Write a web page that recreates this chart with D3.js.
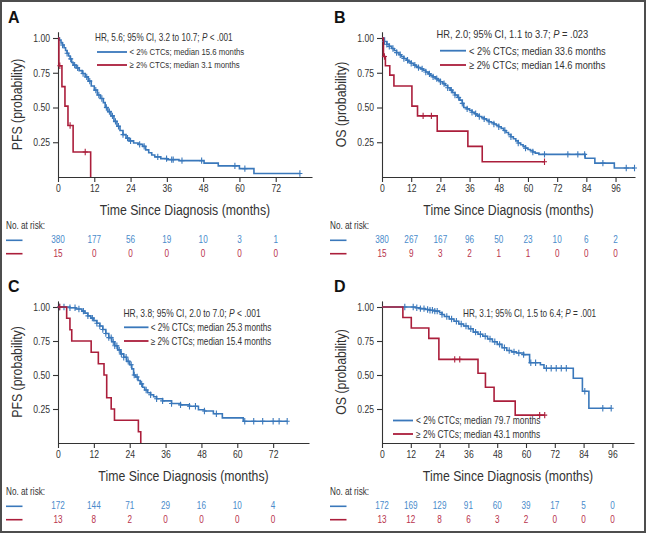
<!DOCTYPE html>
<html><head><meta charset="utf-8">
<script src="https://cdn.jsdelivr.net/npm/d3@7"></script>
<style>body{margin:0;background:#fff}svg{display:block}</style>
</head><body><svg id="c" width="646" height="533"></svg>
<script>
// ---------------- DATA ----------------
const ticksShort = [0, 12, 24, 36, 48, 60, 72];
const ticksLong = [0, 12, 24, 36, 48, 60, 72, 84, 96];
const yTicks = [0.25, 0.5, 0.75, 1.0];

// Panel A: PFS, full cohort  [months, survival]
const pfsA_low = [[0,1],[0.5,0.985],[1,0.965],[1.5,0.95],[2,0.93],[2.5,0.91],[3,0.89],[3.5,0.87],[4,0.85],[4.5,0.825],[5,0.805],[6,0.785],[7,0.765],[8,0.745],[9,0.72],[10,0.69],[11,0.655],[12,0.625],[13,0.59],[14,0.565],[15,0.535],[15.6,0.50],[16.5,0.47],[17.5,0.44],[18.5,0.40],[19.5,0.365],[20.5,0.335],[21.5,0.305],[22.5,0.28],[23.5,0.26],[25,0.245],[26.5,0.235],[28,0.22],[29,0.195],[30,0.175],[31,0.158],[32,0.145],[34,0.132],[36,0.125],[40,0.118],[48.3,0.10],[53,0.08],[60,0.06],[64.8,0.025],[80,0.025]];
const pfsA_high = [[0,1],[0.3,0.80],[1.3,0.65],[2.3,0.51],[3.3,0.37],[5.0,0.18],[10.8,0]];
const pfsA_lowCens = [1.5,3,4.2,5.5,6.5,8.3,9.5,10.5,12.5,13.5,14.5,16,17,18,19,20,21.5,23,24,27,28.5,33,35.9,37.6,38.1,41,47.5,58.5,61.8,80];
const pfsA_highCens = [0.6,4.0,9.0];
const riskA_low = [380,177,56,19,10,3,1];
const riskA_high = [15,0,0,0,0,0,0];

// Panel B: OS, full cohort
const osB_low = [[0,1],[1,0.975],[2,0.955],[3,0.94],[4,0.925],[5,0.91],[6,0.895],[7,0.88],[8,0.865],[9,0.853],[10,0.84],[11,0.828],[12,0.818],[13,0.805],[14,0.795],[15,0.787],[16,0.778],[17,0.768],[18,0.755],[19,0.742],[20,0.73],[21,0.72],[22,0.708],[23,0.697],[24,0.685],[25,0.672],[26,0.658],[27,0.642],[28,0.625],[29,0.607],[30,0.59],[31,0.572],[32,0.553],[33,0.53],[33.6,0.50],[35,0.49],[36,0.478],[37,0.466],[38,0.455],[39,0.445],[40,0.435],[41,0.427],[42,0.418],[43,0.408],[44,0.398],[45,0.39],[46,0.381],[47,0.372],[48,0.362],[49,0.35],[50,0.335],[51,0.32],[52,0.305],[53,0.29],[54,0.275],[55,0.26],[56,0.245],[57,0.232],[58,0.22],[59,0.208],[60,0.198],[61,0.19],[62,0.18],[63,0.172],[64.5,0.163],[83.5,0.135],[87.5,0.10],[95.5,0.065],[103.8,0.065]];
const osB_high = [[0,1],[0.6,0.867],[1.4,0.80],[3.2,0.733],[4.9,0.655],[12.3,0.51],[14.6,0.44],[22.7,0.33],[35.3,0.22],[41.2,0.11],[66.8,0.11]];
const osB_lowCens = [1,2,3,4.5,6,7.5,9,10.5,12,13.5,15,16.5,18,19.5,21,22.5,24,25.5,27,28.5,30,31.5,33,35,37,38.5,40,42,44,46,48,50.5,53,56,59,62,66.8,76.4,80.5,83.3,90.8,100.4,103.8];
const osB_highCens = [1.0,16.9,20.3,66.8];
const riskB_low = [380,267,167,96,50,23,10,6,2];
const riskB_high = [15,9,3,2,1,1,0,0,0];

// Panel C: PFS, subgroup
const pfsC_low = [[0,1],[4,0.995],[6,0.985],[8,0.97],[9,0.955],[10,0.935],[11,0.918],[12,0.90],[13,0.88],[14,0.86],[15,0.835],[16,0.805],[17,0.775],[18,0.745],[19,0.715],[20,0.685],[21,0.655],[22,0.63],[23,0.60],[24,0.575],[24.7,0.545],[25.3,0.50],[26,0.485],[26.8,0.46],[27.5,0.435],[28.3,0.41],[29,0.39],[30,0.37],[31,0.355],[32,0.34],[33,0.325],[35,0.31],[38,0.29],[41,0.28],[44,0.27],[47,0.245],[49,0.235],[52,0.215],[55,0.185],[62,0.16],[76.7,0.16]];
const pfsC_high = [[0,1],[2.9,0.917],[4.0,0.833],[4.6,0.75],[11.1,0.667],[13.5,0.583],[15.4,0.50],[16.3,0.333],[17.8,0.25],[18.9,0.167],[26.9,0.083],[27.7,0]];
const pfsC_lowCens = [0.5,2,4,5.7,7,8.5,10,11.5,13,14,15,16,17,17.8,18.5,19,19.7,20.5,21.2,22,22.8,23.5,24.5,25.5,26.5,28,29.5,31,33,35,38,41,44,46,49,53,62.5,65.5,68.5,72,74,76.7];
const pfsC_highCens = [0.6];
const riskC_low = [172,144,71,29,16,10,4];
const riskC_high = [13,8,2,0,0,0,0];

// Panel D: OS, subgroup
const osD_low = [[0,1],[14,0.994],[16,0.988],[18,0.982],[20,0.976],[22,0.97],[24,0.958],[25,0.945],[26,0.93],[28,0.912],[30,0.895],[32,0.875],[34,0.86],[36,0.84],[38,0.815],[40,0.80],[42,0.785],[44,0.765],[46,0.745],[48,0.725],[50,0.70],[52,0.68],[54,0.67],[56,0.662],[59,0.65],[61.5,0.59],[66,0.575],[67.5,0.55],[79.7,0.476],[83.5,0.38],[86.2,0.255],[95.5,0.255]];
const osD_high = [[0,1],[8.7,0.923],[12.2,0.846],[19.5,0.769],[23.7,0.615],[40,0.513],[43.1,0.41],[46.7,0.308],[55.5,0.205],[67.8,0.205]];
const osD_lowCens = [9.5,13,14.5,16,17.5,19,20,21,22,23,25,27,29,31,33,35,37,39,41,43,45,47,49,51,53,55,57,59,62,64,68.5,70.5,72.6,74.7,76.8,84.5,92,95.5];
const osD_highCens = [30.3,32.4,65.7,67.8];
const riskD_low = [172,169,129,91,60,39,17,5,0];
const riskD_high = [13,12,8,6,3,2,0,0,0];

// Text
const letters = ['A','B','C','D'];
const yTitles = ['PFS (probability)','OS (probability)','PFS (probability)','OS (probability)'];
const xTitle = 'Time Since Diagnosis (months)';
const hrTexts = [
  [{t:'HR, 5.6; 95% CI, 3.2 to 10.7; '},{t:'P',i:true},{t:' < .001'}],
  [{t:'HR, 2.0; 95% CI, 1.1 to 3.7; '},{t:'P',i:true},{t:' = .023'}],
  [{t:'HR, 3.8; 95% CI, 2.0 to 7.0; '},{t:'P',i:true},{t:' < .001'}],
  [{t:'HR, 3.1; 95% CI, 1.5 to 6.4; '},{t:'P',i:true},{t:' = .001'}]
];
const lowLabels = ['< 2% CTCs; median 15.6 months','< 2% CTCs; median 33.6 months','< 2% CTCs; median 25.3 months','< 2% CTCs; median 79.7 months'];
const highLabels = ['\u2265 2% CTCs; median 3.1 months','\u2265 2% CTCs; median 14.6 months','\u2265 2% CTCs; median 15.4 months','\u2265 2% CTCs; median 43.1 months'];

// ---------------- DRAWING ----------------
const BLUE = '#3a78bb', RED = '#ab1e3b', BLUE_T = '#4a8bcb', RED_T = '#b8324c', INK = '#333';
const FONT = '"Liberation Sans", Arial, Helvetica, sans-serif';
const SX = 0.82;
const svg = d3.select('#c');
svg.append('rect').attr('x',1).attr('y',1).attr('width',644).attr('height',531)
  .attr('fill','#fff').attr('stroke','#4d4d4d').attr('stroke-width',2);

function txt(g, x, y, parts, size, o = {}) {
  const useScale = !o.noScale && !o.rot;
  const t = g.append('text')
    .attr('transform', `translate(${x},${y})${o.rot ? ' rotate(-90)' : ''}${useScale ? ` scale(${SX},1)` : ''}`)
    .attr('font-family', FONT).attr('font-size', size)
    .attr('fill', o.fill || INK).attr('text-anchor', o.anchor || 'start')
    .attr('font-weight', o.bold ? 'bold' : null);
  if (typeof parts === 'string') t.text(parts);
  else parts.forEach(p => t.append('tspan').attr('font-style', p.i ? 'italic' : null).text(p.t));
  if (o.rot) {
    const w = t.node().getComputedTextLength();
    t.attr('textLength', w * SX).attr('lengthAdjust', 'spacingAndGlyphs');
  }
  return t;
}

const panels = [
  {low: pfsA_low, high: pfsA_high, lowC: pfsA_lowCens, highC: pfsA_highCens, rl: riskA_low, rh: riskA_high, ticks: ticksShort,
   x0: 58, x1: 312, xmax: 84, yb: 177, yt: 38, lx: 8, ly: 23,
   hr: {x: 95, y: 40.7, s: 10}, leg: {lx0: 97, lx1: 127, tx: 129.5, y1: 52, y2: 65, s: 9.5}},
  {low: osB_low, high: osB_high, lowC: osB_lowCens, highC: osB_highCens, rl: riskB_low, rh: riskB_high, ticks: ticksLong,
   x0: 382, x1: 635, xmax: 104, yb: 177, yt: 38, lx: 334, ly: 23,
   hr: {x: 436.5, y: 37.5, s: 11.4}, leg: {lx0: 440, lx1: 466, tx: 469, y1: 50.7, y2: 65, s: 11.3}},
  {low: pfsC_low, high: pfsC_high, lowC: pfsC_lowCens, highC: pfsC_highCens, rl: riskC_low, rh: riskC_high, ticks: ticksShort,
   x0: 58, x1: 309, xmax: 84, yb: 443, yt: 307, lx: 8, ly: 292,
   hr: {x: 123.5, y: 317.3, s: 10.3}, leg: {lx0: 124, lx1: 148.5, tx: 150.7, y1: 327.3, y2: 341, s: 10}},
  {low: osD_low, high: osD_high, lowC: osD_lowCens, highC: osD_highCens, rl: riskD_low, rh: riskD_high, ticks: ticksLong,
   x0: 382, x1: 634, xmax: 105, yb: 443, yt: 307, lx: 334, ly: 292,
   hr: {x: 463, y: 316.7, s: 10}, leg: {lx0: 393, lx1: 413, tx: 416, y1: 420.5, y2: 434, s: 10.3}}
];

function stepVal(data, t) {
  let v = data[0][1];
  for (const d of data) { if (d[0] <= t + 1e-9) v = d[1]; else break; }
  return v;
}

panels.forEach((p, i) => {
  const g = svg.append('g');
  const unit = p.yb - p.yt;
  const x = d3.scaleLinear().domain([0, p.xmax]).range([p.x0, p.x1]);
  const y = d3.scaleLinear().domain([0, 1.045]).range([p.yb, p.yb - 1.045 * unit]);

  // axes
  const ax = g.append('g').attr('transform', `translate(${p.x0},0)`)
    .call(d3.axisLeft(y).tickValues(yTicks).tickFormat(d3.format('.2f')).tickSize(5).tickSizeOuter(0).tickPadding(3));
  const bx = g.append('g').attr('transform', `translate(0,${p.yb})`)
    .call(d3.axisBottom(x).tickValues(p.ticks).tickFormat(d3.format('d')).tickSize(5).tickSizeOuter(0).tickPadding(3));
  [ax, bx].forEach(a => {
    a.attr('font-family', FONT).attr('font-size', 10.5);
    a.selectAll('path,line').attr('stroke', INK).attr('stroke-width', 1.1);
    a.selectAll('text').attr('fill', INK);
  });
  ax.selectAll('text').attr('transform', `scale(${SX},1)`).attr('x', -8 / SX);
  bx.selectAll('text').attr('transform', `scale(${SX},1)`);

  // letter
  txt(g, p.lx, p.ly, letters[i], 16, {bold: true, noScale: true, fill: '#111'});
  // y title
  txt(g, p.x0 - 36, (p.yb + p.yt) / 2 - 3, yTitles[i], 15, {rot: true, anchor: 'middle'});
  // x title
  txt(g, (p.x0 + p.x1) / 2, p.yb + 38, xTitle, 15, {anchor: 'middle'});

  // curves
  const line = d3.line().x(d => x(d[0])).y(d => y(d[1])).curve(d3.curveStepAfter);
  [[p.low, BLUE, p.lowC], [p.high, RED, p.highC]].forEach(([data, col, cens]) => {
    g.append('path').datum(data).attr('d', line).attr('fill', 'none')
      .attr('stroke', col).attr('stroke-width', 1.6);
    g.append('g').selectAll('path').data(cens).join('path')
      .attr('d', t => {
        const cx = x(t), cy = y(stepVal(data, t));
        return `M${cx - 2.5},${cy}h5M${cx},${cy - 3.2}v6.4`;
      })
      .attr('stroke', col).attr('stroke-width', 1.1).attr('fill', 'none');
  });

  // legend
  txt(g, p.hr.x, p.hr.y, hrTexts[i], p.hr.s);
  const L = p.leg;
  g.append('line').attr('x1', L.lx0).attr('x2', L.lx1).attr('y1', L.y1).attr('y2', L.y1).attr('stroke', BLUE).attr('stroke-width', 1.8);
  g.append('line').attr('x1', L.lx0).attr('x2', L.lx1).attr('y1', L.y2).attr('y2', L.y2).attr('stroke', RED).attr('stroke-width', 1.8);
  txt(g, L.tx, L.y1 + L.s * 0.36, lowLabels[i], L.s);
  txt(g, L.tx, L.y2 + L.s * 0.36, highLabels[i], L.s);

  // risk table
  const rx0 = p.x0 < 200 ? 6 : 330;
  txt(g, rx0, p.yb + 52.3, 'No. at risk:', 10);
  g.append('line').attr('x1', rx0).attr('x2', rx0 + 16.5).attr('y1', p.yb + 63.3).attr('y2', p.yb + 63.3).attr('stroke', BLUE).attr('stroke-width', 1.6);
  g.append('line').attr('x1', rx0).attr('x2', rx0 + 16.5).attr('y1', p.yb + 76.7).attr('y2', p.yb + 76.7).attr('stroke', RED).attr('stroke-width', 1.6);
  p.ticks.forEach((t, k) => {
    txt(g, x(t), p.yb + 66.2, String(p.rl[k]), 10, {anchor: 'middle', fill: BLUE_T});
    txt(g, x(t), p.yb + 79.5, String(p.rh[k]), 10, {anchor: 'middle', fill: RED_T});
  });
});
</script>
</body></html>
